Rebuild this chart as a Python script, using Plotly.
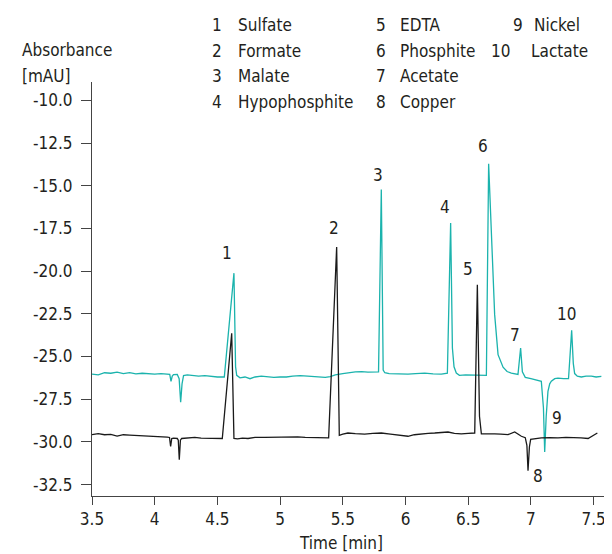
import plotly.graph_objects as go

# ---- data ----
teal_time = [3.50, 3.55, 3.60, 3.65, 3.70, 3.75, 3.80, 3.85, 3.90, 3.95, 4.00, 4.05, 4.10, 4.12, 4.13,
             4.14, 4.15, 4.18, 4.195, 4.207, 4.218, 4.23, 4.26, 4.30, 4.35, 4.40, 4.45, 4.50, 4.555,
             4.632, 4.645, 4.654, 4.68, 4.72, 4.76, 4.80, 4.85, 4.90, 4.95, 5.00, 5.05, 5.10, 5.16,
             5.22, 5.27, 5.32, 5.36, 5.40, 5.44, 5.50, 5.54, 5.60, 5.65, 5.70, 5.785, 5.807, 5.822,
             5.835, 5.87, 5.92, 5.97, 6.02, 6.08, 6.153, 6.22, 6.286, 6.334, 6.360, 6.374, 6.387,
             6.405, 6.43, 6.48, 6.552, 6.60, 6.645, 6.663, 6.685, 6.711, 6.738, 6.778, 6.81, 6.844,
             6.897, 6.918, 6.932, 6.945, 6.955, 7.00, 7.03, 7.083, 7.100, 7.110, 7.122, 7.136, 7.150,
             7.163, 7.19, 7.216, 7.26, 7.300, 7.325, 7.338, 7.349, 7.37, 7.402, 7.44, 7.482, 7.52, 7.562]
teal_abs = [-26.03, -26.08, -25.95, -25.98, -25.92, -26.00, -25.95, -26.02, -25.98, -26.00, -26.03,
            -26.00, -26.02, -26.05, -26.45, -26.15, -26.06, -26.05, -26.30, -27.68, -26.60, -26.12,
            -26.08, -26.12, -26.15, -26.12, -26.18, -26.20, -26.20, -20.12, -25.60, -26.10, -26.25,
            -26.20, -26.30, -26.20, -26.15, -26.18, -26.22, -26.20, -26.20, -26.15, -26.12, -26.15,
            -26.18, -26.20, -26.22, -26.18, -26.08, -26.00, -25.95, -25.90, -25.88, -25.92, -25.90,
            -15.23, -25.80, -25.95, -26.00, -26.02, -26.00, -26.03, -26.00, -25.97, -26.02, -26.03,
            -25.98, -17.18, -24.50, -25.60, -25.97, -26.10, -26.08, -26.10, -26.12, -26.10, -13.71,
            -17.48, -22.55, -24.89, -25.63, -25.88, -25.97, -26.05, -24.50, -25.90, -26.10, -26.22,
            -26.30, -26.36, -26.45, -28.00, -30.59, -28.50, -27.04, -26.60, -26.45, -26.30, -26.27,
            -26.30, -26.30, -23.47, -25.40, -26.00, -26.15, -26.20, -26.15, -26.15, -26.20, -26.16]

black_time = [3.50, 3.55, 3.60, 3.65, 3.70, 3.75, 3.80, 3.85, 3.90, 3.947, 4.00, 4.053, 4.10, 4.118,
              4.127, 4.136, 4.15, 4.18, 4.188, 4.196, 4.205, 4.215, 4.26, 4.32, 4.37, 4.425, 4.48,
              4.539, 4.614, 4.625, 4.632, 4.66, 4.70, 4.744, 4.80, 4.877, 4.94, 5.01, 5.07, 5.14,
              5.20, 5.27, 5.33, 5.387, 5.451, 5.462, 5.472, 5.50, 5.541, 5.60, 5.674, 5.74, 5.807,
              5.88, 5.966, 6.020, 6.07, 6.126, 6.18, 6.233, 6.29, 6.339, 6.39, 6.445, 6.50, 6.552,
              6.573, 6.590, 6.605, 6.66, 6.711, 6.76, 6.818, 6.871, 6.90, 6.924, 6.955, 6.968, 6.977,
              6.988, 6.998, 7.04, 7.083, 7.15, 7.216, 7.28, 7.349, 7.40, 7.456, 7.50, 7.530]
black_abs = [-29.58, -29.52, -29.58, -29.56, -29.66, -29.58, -29.60, -29.62, -29.60, -29.62, -29.65,
             -29.68, -29.72, -29.74, -30.26, -29.80, -29.78, -29.80, -29.90, -31.04, -29.90, -29.80,
             -29.76, -29.74, -29.78, -29.80, -29.78, -29.80, -23.64, -27.50, -29.80, -29.82, -29.78,
             -29.80, -29.74, -29.74, -29.72, -29.74, -29.70, -29.70, -29.74, -29.76, -29.76, -29.76,
             -18.59, -25.00, -29.62, -29.55, -29.48, -29.52, -29.54, -29.50, -29.48, -29.54, -29.62,
             -29.67, -29.58, -29.53, -29.50, -29.48, -29.45, -29.42, -29.50, -29.53, -29.50, -29.48,
             -20.80, -28.50, -29.53, -29.52, -29.53, -29.55, -29.57, -29.42, -29.55, -29.67, -29.75,
             -30.20, -31.69, -30.30, -29.85, -29.80, -29.77, -29.75, -29.77, -29.74, -29.73, -29.76,
             -29.80, -29.60, -29.48]

peak_labels = ["1", "2", "3", "4", "5", "6", "7", "8", "9", "10"]
peak_label_time = [4.577, 5.427, 5.778, 6.311, 6.498, 6.620, 6.871, 7.057, 7.211, 7.282]
peak_label_abs = [-18.94, -17.48, -14.36, -16.22, -19.88, -12.68, -23.72, -32.01, -28.60, -22.49]

legend_numbers = ["1", "2", "3", "4", "5", "6", "7", "8", "9", "10"]
legend_names = ["Sulfate", "Formate", "Malate", "Hypophosphite", "EDTA", "Phosphite",
                "Acetate", "Copper", "Nickel", "Lactate"]

x_ticks = [3.5, 4, 4.5, 5, 5.5, 6, 6.5, 7, 7.5]
x_tick_text = ["3.5", "4", "4.5", "5", "5.5", "6", "6.5", "7", "7.5"]
y_ticks = [-10.0, -12.5, -15.0, -17.5, -20.0, -22.5, -25.0, -27.5, -30.0, -32.5]
y_tick_text = ["-10.0", "-12.5", "-15.0", "-17.5", "-20.0", "-22.5", "-25.0", "-27.5", "-30.0", "-32.5"]

# ---- styling ----
FONT = "Liberation Sans Narrow, DejaVu Sans Condensed, Arial Narrow, sans-serif"
TEXT = "#231f20"
TEAL = "#1bb3ad"
BLACK = "#1a1a1a"
W, H = 612, 554
L, R, T, B = 84, 2, 74, 66
PW, PH = W - L - R, H - T - B


def px(xp):
    return (xp - L) / PW


def py(yp):
    return (H - B - yp) / PH


fig = go.Figure()
fig.add_trace(go.Scatter(x=teal_time, y=teal_abs, mode="lines",
                         line=dict(color=TEAL, width=1.3), showlegend=False, hoverinfo="skip"))
fig.add_trace(go.Scatter(x=black_time, y=black_abs, mode="lines",
                         line=dict(color=BLACK, width=1.3), showlegend=False, hoverinfo="skip"))

ann = []
for lab, t, v in zip(peak_labels, peak_label_time, peak_label_abs):
    ann.append(dict(x=t, y=v, xref="x", yref="y", text=lab, showarrow=False,
                    font=dict(family=FONT, size=17, color=TEXT)))

row_y = [17, 43, 68, 94]
num_right = [216, 216, 216, 216, 380, 380, 380, 380, 517, 504]
name_left = [228, 228, 228, 228, 390, 390, 390, 390, 524, 521]
for i, (n, name) in enumerate(zip(legend_numbers, legend_names)):
    row = i % 4
    ann.append(dict(x=px(num_right[i]), y=py(row_y[row]), xref="paper", yref="paper",
                    text=n, showarrow=False, xanchor="right", yanchor="middle",
                    font=dict(family=FONT, size=17, color=TEXT)))
    ann.append(dict(x=px(name_left[i]), y=py(row_y[row]), xref="paper", yref="paper",
                    text=name, showarrow=False, xanchor="left", yanchor="middle",
                    font=dict(family=FONT, size=17, color=TEXT)))

ann.append(dict(x=px(12), y=py(42), xref="paper", yref="paper", text="Absorbance",
                showarrow=False, xanchor="left", yanchor="middle",
                font=dict(family=FONT, size=17, color=TEXT)))
ann.append(dict(x=px(12), y=py(68), xref="paper", yref="paper", text="[mAU]",
                showarrow=False, xanchor="left", yanchor="middle",
                font=dict(family=FONT, size=17, color=TEXT)))
ann.append(dict(x=px(333), y=py(535), xref="paper", yref="paper", text="Time [min]",
                showarrow=False, xanchor="center", yanchor="middle",
                font=dict(family=FONT, size=17, color=TEXT)))

fig.update_layout(
    width=W, height=H,
    margin=dict(l=L, r=R, t=T, b=B, pad=0),
    paper_bgcolor="white", plot_bgcolor="white",
    font=dict(family=FONT, size=17, color=TEXT),
    annotations=ann,
    xaxis=dict(range=[3.5, 3.5 + PW / 125.4], tickvals=x_ticks, ticktext=x_tick_text,
               showgrid=False, zeroline=False, showline=True, linecolor="#444", linewidth=1,
               ticks="outside", ticklen=8, tickcolor="#444", tickwidth=1,
               tickfont=dict(family=FONT, size=17, color=TEXT), fixedrange=True),
    yaxis=dict(range=[-10 - (H - B - T - 18.3) / 17.08, -10 + 18.3 / 17.08],
               tickvals=y_ticks, ticktext=y_tick_text,
               showgrid=False, zeroline=False, showline=True, linecolor="#444", linewidth=1,
               ticks="outside", ticklen=10, tickcolor="#444", tickwidth=1, ticklabelstandoff=5,
               tickfont=dict(family=FONT, size=17, color=TEXT), fixedrange=True),
)

fig.write_html("out.html")
